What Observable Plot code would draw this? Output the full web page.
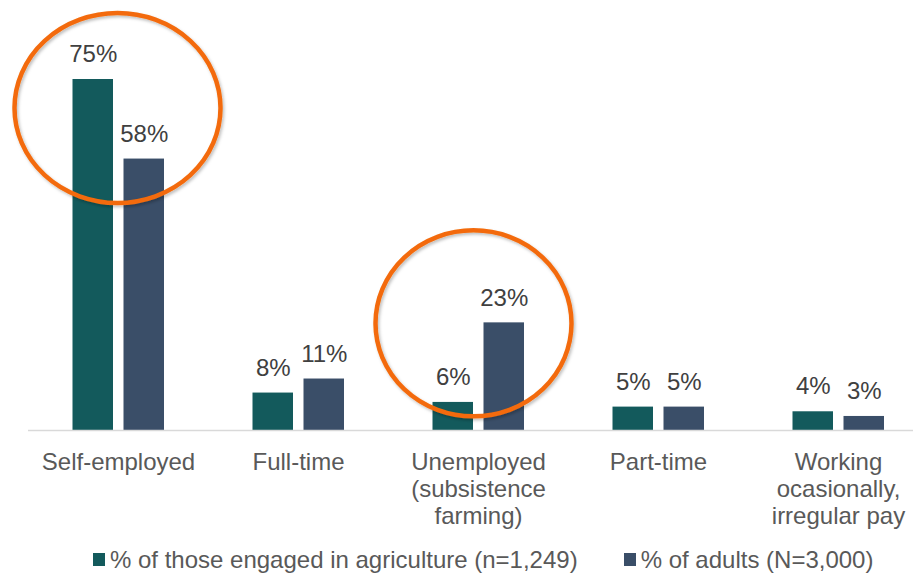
<!DOCTYPE html>
<html>
<head>
<meta charset="utf-8">
<script src="https://cdn.jsdelivr.net/npm/d3@7"></script>
<script src="https://cdn.jsdelivr.net/npm/@observablehq/plot@0.6"></script>
<style>
  html, body { margin: 0; padding: 0; background: #fff; }
  body { width: 913px; height: 575px; overflow: hidden; font-family: "Liberation Sans", Arial, sans-serif; }
  #legend { display: flex; align-items: center; height: 31px; padding-top: 4px; margin-left: 93px; font-size: 24px; color: #595959; white-space: nowrap; }
  .item { display: flex; align-items: center; margin-right: 46px; }
  .sw { width: 12px; height: 13px; margin-right: 5px; }
</style>
</head>
<body>
<div id="chart"></div>
<div id="legend"></div>
<script>
const categories = ["Self-employed", "Full-time", "Unemployed\n(subsistence\nfarming)", "Part-time", "Working\nocasionally,\nirregular pay"];
const seriesNames = ["% of those engaged in agriculture (n=1,249)", "% of adults (N=3,000)"];
const agriculture = [75, 8, 6, 5, 4];
const adults = [58, 11, 23, 5, 3];
const highlighted = ["Self-employed", "Unemployed\n(subsistence\nfarming)"];

const colors = ["#135A5C", "#3A4E68"];
const textColor = "#595959";

const agriData = categories.map((c, i) => ({category: c, value: agriculture[i]}));
const adultData = categories.map((c, i) => ({category: c, value: adults[i]}));

// annotation ellipse styling (per highlighted category)
const ellipseStyle = [
  {dx: -0.5, dy: 29, anchorValue: 75, rx: 103, ry: 95},
  {dx: -4.5, dy: 1, anchorValue: 23, rx: 98, ry: 93}
];

const ellipseMark = (index, scales) => {
  const g = d3.create("svg:g");
  const defs = g.append("defs");
  const f = defs.append("filter").attr("id", "shadow").attr("x", "-20%").attr("y", "-20%").attr("width", "140%").attr("height", "140%");
  f.append("feDropShadow").attr("dx", 1.5).attr("dy", 2).attr("stdDeviation", 1.5).attr("flood-color", "#000").attr("flood-opacity", 0.25);
  highlighted.forEach((c, i) => {
    const s = ellipseStyle[i];
    const cx = scales.x(c) + scales.x.bandwidth() / 2 + s.dx;
    const cy = scales.y(s.anchorValue) + s.dy;
    g.append("ellipse")
      .attr("cx", cx).attr("cy", cy).attr("rx", s.rx).attr("ry", s.ry)
      .attr("fill", "none").attr("stroke", "#F36B0A").attr("stroke-width", 4.5)
      .attr("filter", "url(#shadow)");
  });
  return g.node();
};

const fontSize = 24;

const chart = Plot.plot({
  width: 913,
  height: 540,
  marginLeft: 28,
  marginRight: 0,
  marginTop: 79,
  marginBottom: 110,
  style: {fontFamily: "'Liberation Sans', Arial, sans-serif", background: "#fff", overflow: "visible"},
  x: {domain: categories, range: [27.5, 927.5], padding: 0, axis: null},
  y: {domain: [0, 75], axis: null},
  marks: [
    Plot.barY(agriData, {x: "category", y: "value", fill: colors[0], insetLeft: 44.5, insetRight: 95}),
    Plot.barY(adultData, {x: "category", y: "value", fill: colors[1], insetLeft: 95.5, insetRight: 44}),
    Plot.ruleY([0], {stroke: "#d9d9d9", strokeWidth: 1.5}),
    Plot.text(agriData, {x: "category", y: "value", text: d => d.value + "%", dx: -25.25, dy: -25, fontSize, fill: "#404040"}),
    Plot.text(adultData, {x: "category", y: "value", text: d => d.value + "%", dx: 25.75, dy: -25, fontSize, fill: "#404040"}),
    Plot.axisX({domain: categories, tickSize: 0, tickPadding: 20, fontSize, lineHeight: 1.125, fill: textColor, label: null}),
    ellipseMark
  ]
});
document.getElementById("chart").appendChild(chart);

const legend = d3.select("#legend");
seriesNames.forEach((name, i) => {
  const item = legend.append("div").attr("class", "item");
  item.append("div").attr("class", "sw").style("background", colors[i]);
  item.append("span").text(name);
});
</script>
</body>
</html>
